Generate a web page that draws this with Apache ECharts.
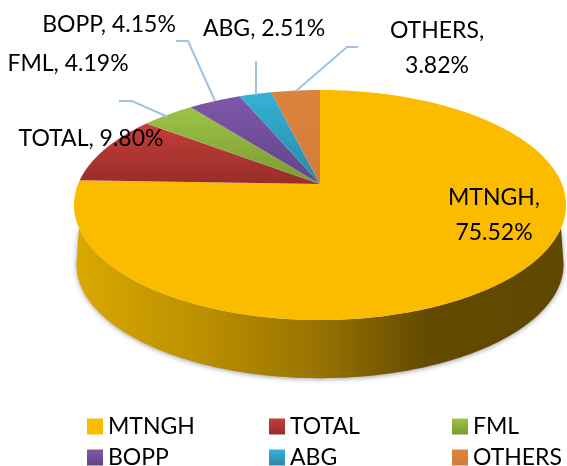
<!DOCTYPE html>
<html>
<head>
<meta charset="utf-8">
<style>
html, body { margin: 0; padding: 0; background: #fff; }
#main { width: 567px; height: 466px; }
</style>
<script src="https://cdn.jsdelivr.net/npm/echarts@6/dist/echarts.min.js"></script>
</head>
<body>
<div id="main"></div>
<script>
var categories = ["MTNGH", "TOTAL", "FML", "BOPP", "ABG", "OTHERS"];
var shares = [75.52, 9.80, 4.19, 4.15, 2.51, 3.82];
var shareLabels = ["75.52%", "9.80%", "4.19%", "4.15%", "2.51%", "3.82%"];
// top and bottom colour of each slice
var colorTop = ["#FBBC00", "#C63D39", "#9DC447", "#7F58A9", "#35B2D6", "#DB843D"];
var colorBottom = ["#FBBC00", "#962E2B", "#7A9A34", "#60438A", "#2889A8", "#D07C39"];
var wallStops = [
    [0, "#DAA800"], [0.25, "#BC9000"], [0.5, "#977200"], [0.72, "#644A00"], [1, "#604800"]
];

// perspective of the disc, picked so the apex sits above the ellipse centre
var cx = 320, cy = 184;
var radiusX = 241.9, radiusY = 111.2, tilt = 0.1826;
var wallDepth = 59.5, wallScale = 0.99;
// the wall leaves the top rim lower than it reaches the bottom rim
var rimFrom = 111.7, rimTo = 248.3;
var baseFrom = 100.5, baseTo = 259.5;

var fontName = "Lato";
var fontSize = 23;
var labelColor = "#000";

// label anchors and leader lines, per slice
var labelPlaces = [[494, 215], [91, 139], [68, 64], [109, 25], [264, 29], [437, 48]];
var labelBreak = [true, false, false, false, false, true];
var leaders = [
    null,
    null,
    [[119, 101], [132, 101], [168, 117]],
    [[176, 41], [188, 41], [215, 101]],
    [[256, 61], [256, 95]],
    [[358, 47], [347, 47], [296, 91]]
];
var legendPlaces = [[87, 415], [269, 415], [452, 415], [87, 446], [269, 446], [452, 446]];

function project(deg, dy, scale) {
    var t = deg * Math.PI / 180;
    var w = 1 + tilt * Math.cos(t);
    return [
        cx + radiusX * scale * Math.sin(t) / w,
        cy - radiusY * scale * Math.cos(t) / w + dy
    ];
}

function arcPoints(from, to, dy, scale) {
    var pts = [];
    var steps = Math.max(2, Math.ceil(Math.abs(to - from)));
    for (var i = 0; i <= steps; i++) {
        pts.push(project(from + (to - from) * i / steps, dy, scale));
    }
    return pts;
}

function sliceGradient(i) {
    return new echarts.graphic.LinearGradient(0, 0, 0, 1, [
        { offset: 0, color: colorTop[i] },
        { offset: 1, color: colorBottom[i] }
    ]);
}

function buildRender(i) {
    return function (params, api) {
        var from = api.value(0), to = api.value(1);
        var children = [];

        // side wall, only the part of the slice facing the viewer
        var a = Math.max(from, rimFrom), b = Math.min(to, rimTo);
        var c = Math.max(from, baseFrom), d = Math.min(to, baseTo);
        if (a < b) {
            var wall = arcPoints(a, b, 0, 1).concat(arcPoints(d, c, wallDepth, wallScale));
            children.push({
                type: "polygon",
                shape: { points: wall },
                style: {
                    fill: new echarts.graphic.LinearGradient(0, 0, 1, 0, wallStops.map(function (s) {
                        return { offset: s[0], color: s[1] };
                    })),
                    shadowBlur: 5,
                    shadowOffsetY: 1,
                    shadowColor: "rgba(40,40,60,0.45)"
                }
            });
        }

        // top face
        children.push({
            type: "polygon",
            shape: { points: [[cx, cy]].concat(arcPoints(from, to, 0, 1)) },
            style: { fill: sliceGradient(i) }
        });

        if (leaders[i]) {
            children.push({
                type: "polyline",
                shape: { points: leaders[i] },
                style: { stroke: "#9DC3E6", lineWidth: 2, fill: "none" },
                z2: 50
            });
        }

        children.push({
            type: "text",
            x: labelPlaces[i][0],
            y: labelPlaces[i][1],
            z2: 100,
            style: {
                text: categories[i] + "," + (labelBreak[i] ? "\n" : " ") + shareLabels[i],
                fill: labelColor,
                font: fontSize + "px " + fontName,
                align: "center",
                verticalAlign: "middle",
                lineHeight: 35
            }
        });

        return { type: "group", children: children };
    };
}

// slices start at twelve o'clock and run clockwise
var total = 0;
shares.forEach(function (v) { total += v; });
var series = [];
var legends = [];
var running = 0;
categories.forEach(function (name, i) {
    var start = running / total * 360;
    running += shares[i];
    series.push({
        type: "custom",
        name: name,
        coordinateSystem: "none",
        silent: true,
        itemStyle: { color: sliceGradient(i) },
        data: [[start, running / total * 360]],
        renderItem: buildRender(i)
    });
    legends.push({
        data: [name],
        left: legendPlaces[i][0],
        top: legendPlaces[i][1],
        icon: "rect",
        itemWidth: 16,
        itemHeight: 16,
        padding: 0,
        selectedMode: false,
        textStyle: {
            color: labelColor,
            fontFamily: fontName,
            fontSize: fontSize,
            padding: [0, 0, 0, 0]
        }
    });
});

var myChart = echarts.init(document.getElementById("main"), null, { renderer: "canvas" });
myChart.setOption({
    animation: false,
    backgroundColor: "#fff",
    legend: legends,
    series: series
});
</script>
</body>
</html>
